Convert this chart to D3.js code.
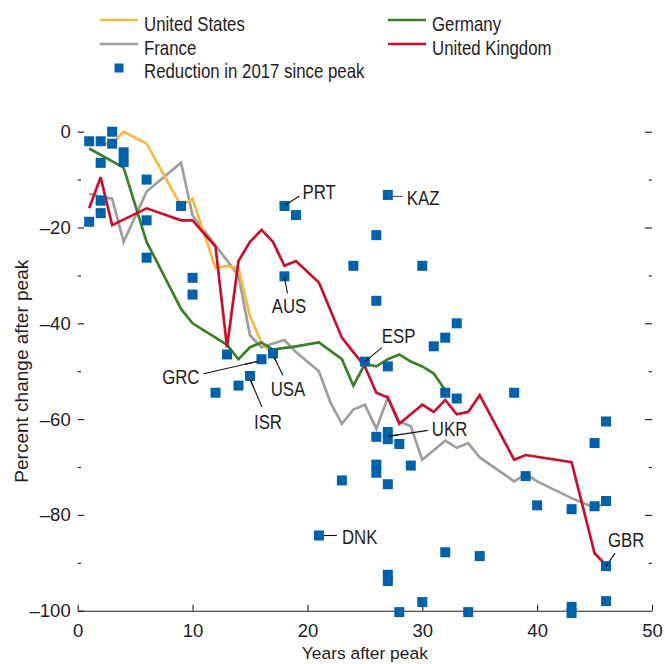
<!DOCTYPE html>
<html>
<head>
<meta charset="utf-8">
<script src="https://cdn.jsdelivr.net/npm/d3@7"></script>
<style>
  html, body { margin: 0; padding: 0; background: #ffffff; }
  svg { display: block; }
</style>
</head>
<body>
<svg id="chart" width="665" height="664"></svg>
<script>
// ---------------- data ----------------
const usYears = [2, 3, 4, 6, 9, 10, 12, 13, 14, 15, 16, 17];
const usValues = [-2.5, -2.5, 0, -2.5, -15.5, -14, -28.5, -28, -28.5, -38.5, -44, -46.5];

const germanyYears = [1, 4, 6, 9, 10, 13, 14, 15, 16, 17, 19, 21, 23, 24, 25, 26, 27, 28, 29, 30, 31, 32];
const germanyValues = [-3.5, -7.5, -23, -37, -40, -44.5, -47.5, -45, -44, -45.5, -44.8, -44, -47.5, -53, -48.5, -49, -47.5, -46.5, -48, -49, -50.5, -54];

const franceYears = [1, 3, 4, 6, 9, 10, 14, 15, 16, 18, 19, 21, 22, 23, 24, 25, 26, 27, 28, 29, 30, 31, 32, 33, 34, 35, 38, 39, 40, 43, 45, 46];
const franceValues = [-13, -14, -23, -12.5, -6.5, -17.5, -30, -42.5, -45, -43.5, -46, -50, -56.5, -61, -58, -57, -62, -55.5, -60.5, -61.5, -68.5, -66.5, -64.5, -66, -65, -68, -73, -71.5, -73, -76.5, -78.5, -77.5];

const ukYears = [1, 2, 3, 6, 9, 10, 12, 13, 14, 15, 16, 17, 18, 19, 21, 23, 24, 25, 26, 27, 28, 29, 30, 31, 32, 33, 34, 35, 38, 39, 43, 45, 46];
const ukValues = [-16, -9.5, -19.5, -16, -18.5, -18.5, -24, -45, -27, -23, -20.5, -23, -28, -27, -31.5, -43, -46, -49, -54.5, -55.5, -61, -59, -57, -58.5, -56, -59, -58.5, -55, -68.5, -67.5, -69, -88, -90.5];

// reduction in 2017 since peak (years after peak, percent change)
const pointYears = [
  1, 1, 2, 2, 2, 2, 3, 3, 4, 4, 6, 6, 6, 9, 10, 10, 12, 13, 14, 15, 16, 17,
  18, 18, 19, 21, 23, 24, 25, 26, 26, 26, 26, 26,
  27, 27, 27, 27, 27, 27, 27, 28, 28, 29, 30, 30, 31, 32, 32, 32, 33, 33,
  34, 35, 38, 39, 40, 43, 43, 43, 45, 45, 46, 46, 46, 46
];
const pointValues = [
  -2, -18.8, -2, -6.5, -14.4, -17, 0, -2.5, -4.3, -6.3, -10, -18.5, -26.3, -15.5, -30.5, -34, -54.5, -46.5, -53, -51, -47.5, -46.3,
  -15.5, -30.2, -17.4, -84.3, -72.8, -28, -48, -21.6, -35.3, -63.7, -69.5, -71.2,
  -13.2, -49, -62.7, -64.2, -73.6, -92.5, -93.8, -65.2, -100.3, -69.7, -28, -98.2, -44.8, -43, -54.5, -87.8, -40, -55.7,
  -100.3, -88.6, -54.5, -71.9, -78, -78.8, -99.2, -100.5, -65, -78.2, -60.5, -77.1, -90.7, -98
];

const labelCodes = ["PRT", "KAZ", "AUS", "ESP", "GRC", "USA", "ISR", "UKR", "DNK", "GBR"];
const labelYears = [18, 27, 18, 25, 16, 17, 15, 27, 21, 46];
const labelValues = [-15.5, -13.2, -30.2, -48, -47.5, -46.3, -51, -63.5, -84.3, -90.7];

const xTicks = [0, 10, 20, 30, 40, 50];
const yTicks = [0, -20, -40, -60, -80, -100];
const yMinorTicks = [-10, -30, -50, -70, -90];

const seriesNames = ["United States", "Germany", "France", "United Kingdom"];
const pointLegend = "Reduction in 2017 since peak";
const xTitle = "Years after peak";
const yTitle = "Percent change after peak";

// ---------------- styles / layout ----------------
const colors = {
  "United States": "#f9b744",
  "Germany": "#3b7f27",
  "France": "#9e9e9e",
  "United Kingdom": "#c8102e"
};
const squareColor = "#0061ab";
const inkColor = "#1f1c1d";
const regularFont = "'Liberation Sans', Arial, sans-serif";
const condense = 0.82;   // horizontal squeeze to imitate the condensed face

const svg = d3.select("#chart");
const x = d3.scaleLinear().domain([0, 50]).range([77.7, 652]);
const y = d3.scaleLinear().domain([-100, 0]).range([610.7, 131.7]);

function condensedText(parent, tx, ty, str, size, anchor) {
  parent.append("g")
    .attr("transform", `translate(${tx},${ty}) scale(${condense},1)`)
    .append("text")
    .attr("x", 0).attr("y", 0)
    .attr("text-anchor", anchor)
    .attr("fill", inkColor)
    .attr("font-family", regularFont)
    .attr("font-size", size + "px")
    .text(str);
}

// label layout: leader start/end offsets and text offset (pixels from square centre)
const labelLayout = {
  PRT: { l: [1, -1, 15, -10], t: [18, -6.5], anchor: "start" },
  KAZ: { l: [0, 1.5, 15, 1.5], t: [19, 10], anchor: "start", lc: "#555" },
  AUS: { l: [0, 1, 3, 17], t: [4.5, 37], anchor: "middle" },
  ESP: { l: [0, 0, 17, -14], t: [17, -18.5], anchor: "start" },
  GRC: { l: [-3, 2, -58, 14.5], t: [-62, 25], anchor: "end" },
  USA: { l: [1, 3.5, 10, 22], t: [15, 43], anchor: "middle" },
  ISR: { l: [0, 3, 12, 31], t: [18, 53.5], anchor: "middle" },
  UKR: { l: [0, 0.5, 40, -5.5], t: [44, 0], anchor: "start" },
  DNK: { l: [4, 0, 18, 0], t: [23, 9], anchor: "start" },
  GBR: { l: [0, 0, 9, -13], t: [2, -19], anchor: "start" }
};

// ---------------- axes ----------------
const bottom = svg.append("g").attr("transform", `translate(0,${y(-100)})`)
  .call(d3.axisBottom(x).tickValues(xTicks).tickSizeInner(-6).tickSizeOuter(0).tickPadding(15));
bottom.select(".domain").attr("stroke", inkColor).attr("stroke-width", 1.1);
bottom.selectAll(".tick line").attr("stroke", inkColor).attr("stroke-width", 1.1);
bottom.selectAll(".tick text").attr("fill", inkColor).attr("font-family", regularFont)
  .attr("font-size", "18.5px").attr("dy", "0.71em").attr("y", 13);

const left = svg.append("g").attr("transform", `translate(${x(0)},0)`)
  .call(d3.axisLeft(y).tickValues(yTicks).tickSizeInner(-6.5).tickSizeOuter(0).tickPadding(14)
    .tickFormat(d => d < 0 ? "\u2013" + Math.abs(d) : String(d)));
left.select(".domain").remove();
left.selectAll(".tick line").attr("stroke", inkColor).attr("stroke-width", 1.1);
left.selectAll(".tick text").attr("fill", inkColor).attr("font-family", regularFont)
  .attr("font-size", "18.5px").attr("x", -7);

const leftMinor = svg.append("g").attr("transform", `translate(${x(0)},0)`)
  .call(d3.axisLeft(y).tickValues(yMinorTicks).tickSizeInner(-3.3).tickSizeOuter(0).tickFormat(""));
leftMinor.select(".domain").remove();
leftMinor.selectAll(".tick line").attr("stroke", inkColor).attr("stroke-width", 1.1);

const right = svg.append("g").attr("transform", `translate(${x(50)},0)`)
  .call(d3.axisRight(y).tickValues(yTicks.filter(d => d > -100)).tickSizeInner(-7).tickSizeOuter(0).tickFormat(""));
right.select(".domain").remove();
right.selectAll(".tick line").attr("stroke", inkColor).attr("stroke-width", 1.1);

const rightMinor = svg.append("g").attr("transform", `translate(${x(50)},0)`)
  .call(d3.axisRight(y).tickValues(yMinorTicks).tickSizeInner(-3.3).tickSizeOuter(0).tickFormat(""));
rightMinor.select(".domain").remove();
rightMinor.selectAll(".tick line").attr("stroke", inkColor).attr("stroke-width", 1.1);

// axis titles
svg.append("text")
  .attr("x", (x(0) + x(50)) / 2).attr("y", 658.5)
  .attr("text-anchor", "middle").attr("fill", inkColor)
  .attr("font-family", regularFont).attr("font-size", "17.4px")
  .text(xTitle);

svg.append("text")
  .attr("transform", `translate(28,${(y(0) + y(-100)) / 2}) rotate(-90)`)
  .attr("text-anchor", "middle").attr("fill", inkColor)
  .attr("font-family", regularFont).attr("font-size", "19px")
  .text(yTitle);

// ---------------- lines ----------------
const series = [
  { name: "France", years: franceYears, values: franceValues },
  { name: "United States", years: usYears, values: usValues },
  { name: "Germany", years: germanyYears, values: germanyValues },
  { name: "United Kingdom", years: ukYears, values: ukValues }
];
const line = d3.line().x(d => x(d[0])).y(d => y(d[1]));
svg.append("g").selectAll("path").data(series).join("path")
  .attr("d", s => line(s.years.map((yr, i) => [yr, s.values[i]])))
  .attr("fill", "none")
  .attr("stroke", s => colors[s.name])
  .attr("stroke-width", 2.7)
  .attr("stroke-linejoin", "miter")
  .attr("stroke-miterlimit", 3);

// ---------------- leader lines ----------------
const labels = labelCodes.map((c, i) => ({ code: c, year: labelYears[i], value: labelValues[i] }));
svg.append("g").selectAll("line").data(labels).join("line")
  .attr("x1", d => x(d.year) + labelLayout[d.code].l[0])
  .attr("y1", d => y(d.value) + labelLayout[d.code].l[1])
  .attr("x2", d => x(d.year) + labelLayout[d.code].l[2])
  .attr("y2", d => y(d.value) + labelLayout[d.code].l[3])
  .attr("stroke", d => labelLayout[d.code].lc || "#111")
  .attr("stroke-width", 1.1);

// ---------------- squares ----------------
const pts = pointYears.map((yr, i) => ({ year: yr, value: pointValues[i] }));
const sq = 10;
svg.append("g").selectAll("rect").data(pts).join("rect")
  .attr("x", d => x(d.year) - sq / 2)
  .attr("y", d => y(d.value) - sq / 2)
  .attr("width", sq).attr("height", sq)
  .attr("fill", squareColor);

// leader line starts drawn over squares
svg.append("g").selectAll("line").data(labels.filter(d => d.code !== "KAZ" && d.code !== "DNK")).join("line")
  .attr("x1", d => x(d.year) + labelLayout[d.code].l[0])
  .attr("y1", d => y(d.value) + labelLayout[d.code].l[1])
  .attr("x2", d => x(d.year) + labelLayout[d.code].l[0] + (labelLayout[d.code].l[2] - labelLayout[d.code].l[0]) * 0.25)
  .attr("y2", d => y(d.value) + labelLayout[d.code].l[1] + (labelLayout[d.code].l[3] - labelLayout[d.code].l[1]) * 0.25)
  .attr("stroke", "#111")
  .attr("stroke-width", 1.1);

// label texts
const labelG = svg.append("g");
labels.forEach(d => {
  const L = labelLayout[d.code];
  condensedText(labelG, x(d.year) + L.t[0], y(d.value) + L.t[1], d.code, 20.5, L.anchor);
});

// ---------------- legend ----------------
const legendItems = [
  { name: "United States", lx: 100, ly: 20 },
  { name: "Germany", lx: 388, ly: 20 },
  { name: "France", lx: 100, ly: 44 },
  { name: "United Kingdom", lx: 388, ly: 44 }
];
const lg = svg.append("g");
legendItems.forEach(it => {
  lg.append("line")
    .attr("x1", it.lx).attr("x2", it.lx + 38)
    .attr("y1", it.ly).attr("y2", it.ly)
    .attr("stroke", colors[it.name]).attr("stroke-width", 2.7);
  condensedText(lg, it.lx + 44, it.ly + 10.5, it.name, 20.5, "start");
});
lg.append("rect").attr("x", 114.5).attr("y", 63.5).attr("width", 9).attr("height", 9).attr("fill", squareColor);
condensedText(lg, 144, 77.5, pointLegend, 20.5, "start");
</script>
</body>
</html>
